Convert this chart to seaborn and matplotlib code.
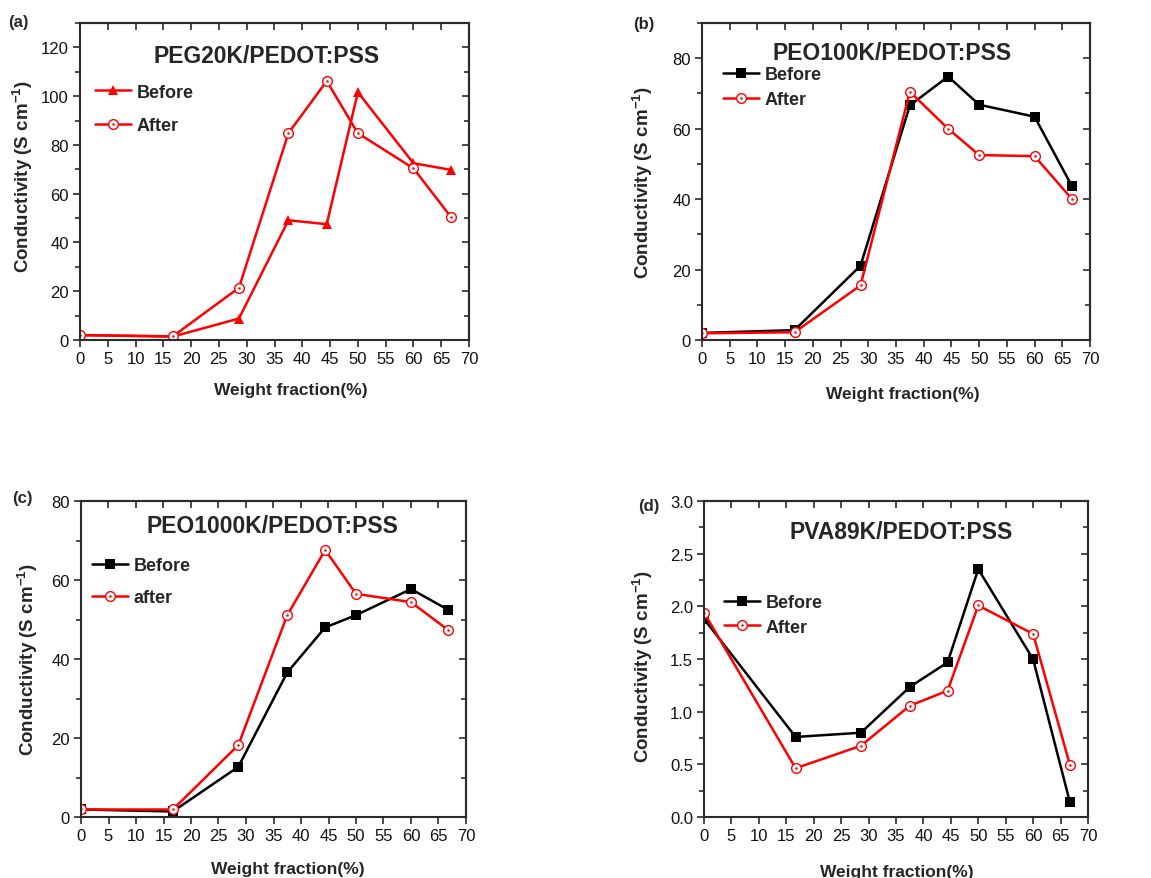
import numpy as np
import pandas as pd
import seaborn as sns
import matplotlib
matplotlib.use("Agg")
import matplotlib.pyplot as plt
from matplotlib.ticker import MultipleLocator
from matplotlib.legend_handler import HandlerTuple

sns.set_style("ticks")
plt.rcParams['font.family'] = ['Liberation Sans', 'DejaVu Sans']
plt.rcParams['mathtext.fontset'] = 'custom'
plt.rcParams['mathtext.rm'] = 'Liberation Sans'
plt.rcParams['mathtext.bf'] = 'Liberation Sans:bold'

# ---------------- data ----------------
weight_fraction = [0, 16.7, 28.6, 37.5, 44.4, 50, 60, 66.7]

peg20k_before = [2.0, 1.4, 8.8, 49.1, 47.5, 101.6, 72.5, 69.8]
peg20k_after = [2.0, 1.5, 21.4, 84.8, 106.2, 84.8, 70.4, 50.6]

peo100k_before = [2.0, 2.8, 21.1, 66.6, 74.8, 66.8, 63.4, 43.8]
peo100k_after = [1.9, 2.2, 15.5, 70.5, 60.0, 52.5, 52.2, 40.1]

peo1000k_before = [1.9, 1.4, 12.7, 36.6, 48.0, 51.1, 57.7, 52.5]
peo1000k_after = [1.9, 1.9, 18.2, 51.1, 67.6, 56.5, 54.4, 47.4]

pva89k_before = [1.88, 0.76, 0.80, 1.234, 1.468, 2.353, 1.497, 0.14]
pva89k_after = [1.94, 0.463, 0.676, 1.056, 1.199, 2.008, 1.738, 0.495]

titles = ["PEG20K/PEDOT:PSS", "PEO100K/PEDOT:PSS", "PEO1000K/PEDOT:PSS", "PVA89K/PEDOT:PSS"]
panel_tags = ["(a)", "(b)", "(c)", "(d)"]
legend_labels = [["Before", "After"], ["Before", "After"], ["Before", "after"], ["Before", "After"]]
x_ticks = list(range(0, 75, 5))
# --------------------------------------

W, H = 1151, 879
fig = plt.figure(figsize=(W / 100, H / 100), dpi=100)

RED = "#ff0000"
BLACK = "#000000"
SPINE = "#2b2b2b"

# axes boxes in pixels (left, top, width, height)
boxes = [(80, 24, 389, 317), (702, 24, 388, 317), (81, 502, 385, 316), (704, 502, 384, 316)]
ylims = [(0, 130), (0, 90), (0, 80), (0, 3.0)]
ymaj = [20, 20, 20, 0.5]
ymin_ = [10, 10, 10, 0.25]
before_data = [peg20k_before, peo100k_before, peo1000k_before, pva89k_before]
after_data = [peg20k_after, peo100k_after, peo1000k_after, pva89k_after]
before_color = [RED, BLACK, BLACK, BLACK]
before_marker = ["^", "s", "s", "s"]
title_pos = [(0.48, 0.896), (0.49, 0.908), (0.497, 0.921), (0.513, 0.905)]
leg_pos = [(0.039, 0.729, 0.9), (0.054, 0.797, 0.45), (0.029, 0.745, 0.85), (0.052, 0.639, 0.4)]
ylab_off = [45, 47, 41, 49]
ylab_y = [0.52, 0.5, 0.5, 0.48]
xlab_pos = [(0.542, 42), (0.518, 46), (0.538, 44), (0.503, 47)]
tag_pos = [(8, 23), (633, 25), (12, 499), (638, 506)]

for i in range(4):
    l, t, w, h = boxes[i]
    ax = fig.add_axes([l / W, 1 - (t + h) / H, w / W, h / H])
    df_b = pd.DataFrame({"x": weight_fraction, "y": before_data[i]})
    df_a = pd.DataFrame({"x": weight_fraction, "y": after_data[i]})

    sns.lineplot(data=df_b, x="x", y="y", ax=ax, color=before_color[i], marker=before_marker[i],
                 markersize=7.5 if before_marker[i] == "^" else 6.5, markeredgewidth=0,
                 linewidth=1.8, sort=False, errorbar=None)
    hb = ax.lines[-1]
    sns.lineplot(data=df_a, x="x", y="y", ax=ax, color=RED, marker="o", markersize=7,
                 markerfacecolor="white", markeredgecolor=RED, markeredgewidth=1.0,
                 linewidth=1.8, sort=False, errorbar=None)
    ha = ax.lines[-1]
    ax.plot(weight_fraction, after_data[i], linestyle="none", marker="o", markersize=1.8,
            color=RED, markeredgewidth=0)
    hd = ax.lines[-1]

    ax.set_xlim(0, 70)
    ax.set_ylim(*ylims[i])
    ax.set_xticks(x_ticks)
    ax.yaxis.set_major_locator(MultipleLocator(ymaj[i]))
    ax.yaxis.set_minor_locator(MultipleLocator(ymin_[i]))
    if i == 3:
        ax.yaxis.set_major_formatter(matplotlib.ticker.FormatStrFormatter("%.1f"))
    ax.tick_params(axis="both", which="both", direction="out", colors=SPINE,
                   labelcolor="#111111", labelsize=12, width=1.2)
    ax.tick_params(axis="both", which="major", length=5, pad=3)
    ax.tick_params(axis="y", which="minor", length=3.5)
    for s in ax.spines.values():
        s.set_visible(True)
        s.set_linewidth(1.5)
        s.set_color(SPINE)

    # mirrored inward ticks on top and right
    top = ax.secondary_xaxis("top")
    top.set_xticks(x_ticks)
    top.tick_params(direction="in", length=5, width=1.2, colors=SPINE, labeltop=False)
    top.spines["top"].set_linewidth(1.5)
    top.spines["top"].set_color(SPINE)
    right = ax.secondary_yaxis("right")
    right.yaxis.set_major_locator(MultipleLocator(ymaj[i]))
    right.yaxis.set_minor_locator(MultipleLocator(ymin_[i]))
    right.tick_params(which="both", direction="in", width=1.2, colors=SPINE, labelright=False)
    right.tick_params(which="major", length=5)
    right.tick_params(which="minor", length=3.5)
    right.spines["right"].set_linewidth(1.5)
    right.spines["right"].set_color(SPINE)

    ax.set_xlabel("Weight fraction(%)", fontsize=12.5, fontweight="bold")
    ax.set_ylabel(r"Conductivity (S cm$^{\mathbf{-1}}$)", fontsize=13.5, fontweight="bold")
    ax.yaxis.set_label_coords(-ylab_off[i] / w, ylab_y[i])
    ax.xaxis.set_label_coords(xlab_pos[i][0], -xlab_pos[i][1] / h)

    ax.text(title_pos[i][0], title_pos[i][1], titles[i], transform=ax.transAxes,
            ha="center", va="center", fontsize=16.5, fontweight="bold")

    lx, ly, lsp = leg_pos[i]
    ax.legend(handles=[(hb,), (ha, hd)], labels=legend_labels[i],
              handler_map={tuple: HandlerTuple(ndivide=1)},
              loc="center left", bbox_to_anchor=(lx, ly), frameon=False,
              borderpad=0, borderaxespad=0, handlelength=2.0, handletextpad=0.3,
              labelspacing=lsp, numpoints=1, prop={"weight": "bold", "size": 13})

    fig.text(tag_pos[i][0] / W, 1 - tag_pos[i][1] / H, panel_tags[i], ha="left", va="center",
             fontsize=12, fontweight="bold")

fig.savefig("out.png", dpi=100)
